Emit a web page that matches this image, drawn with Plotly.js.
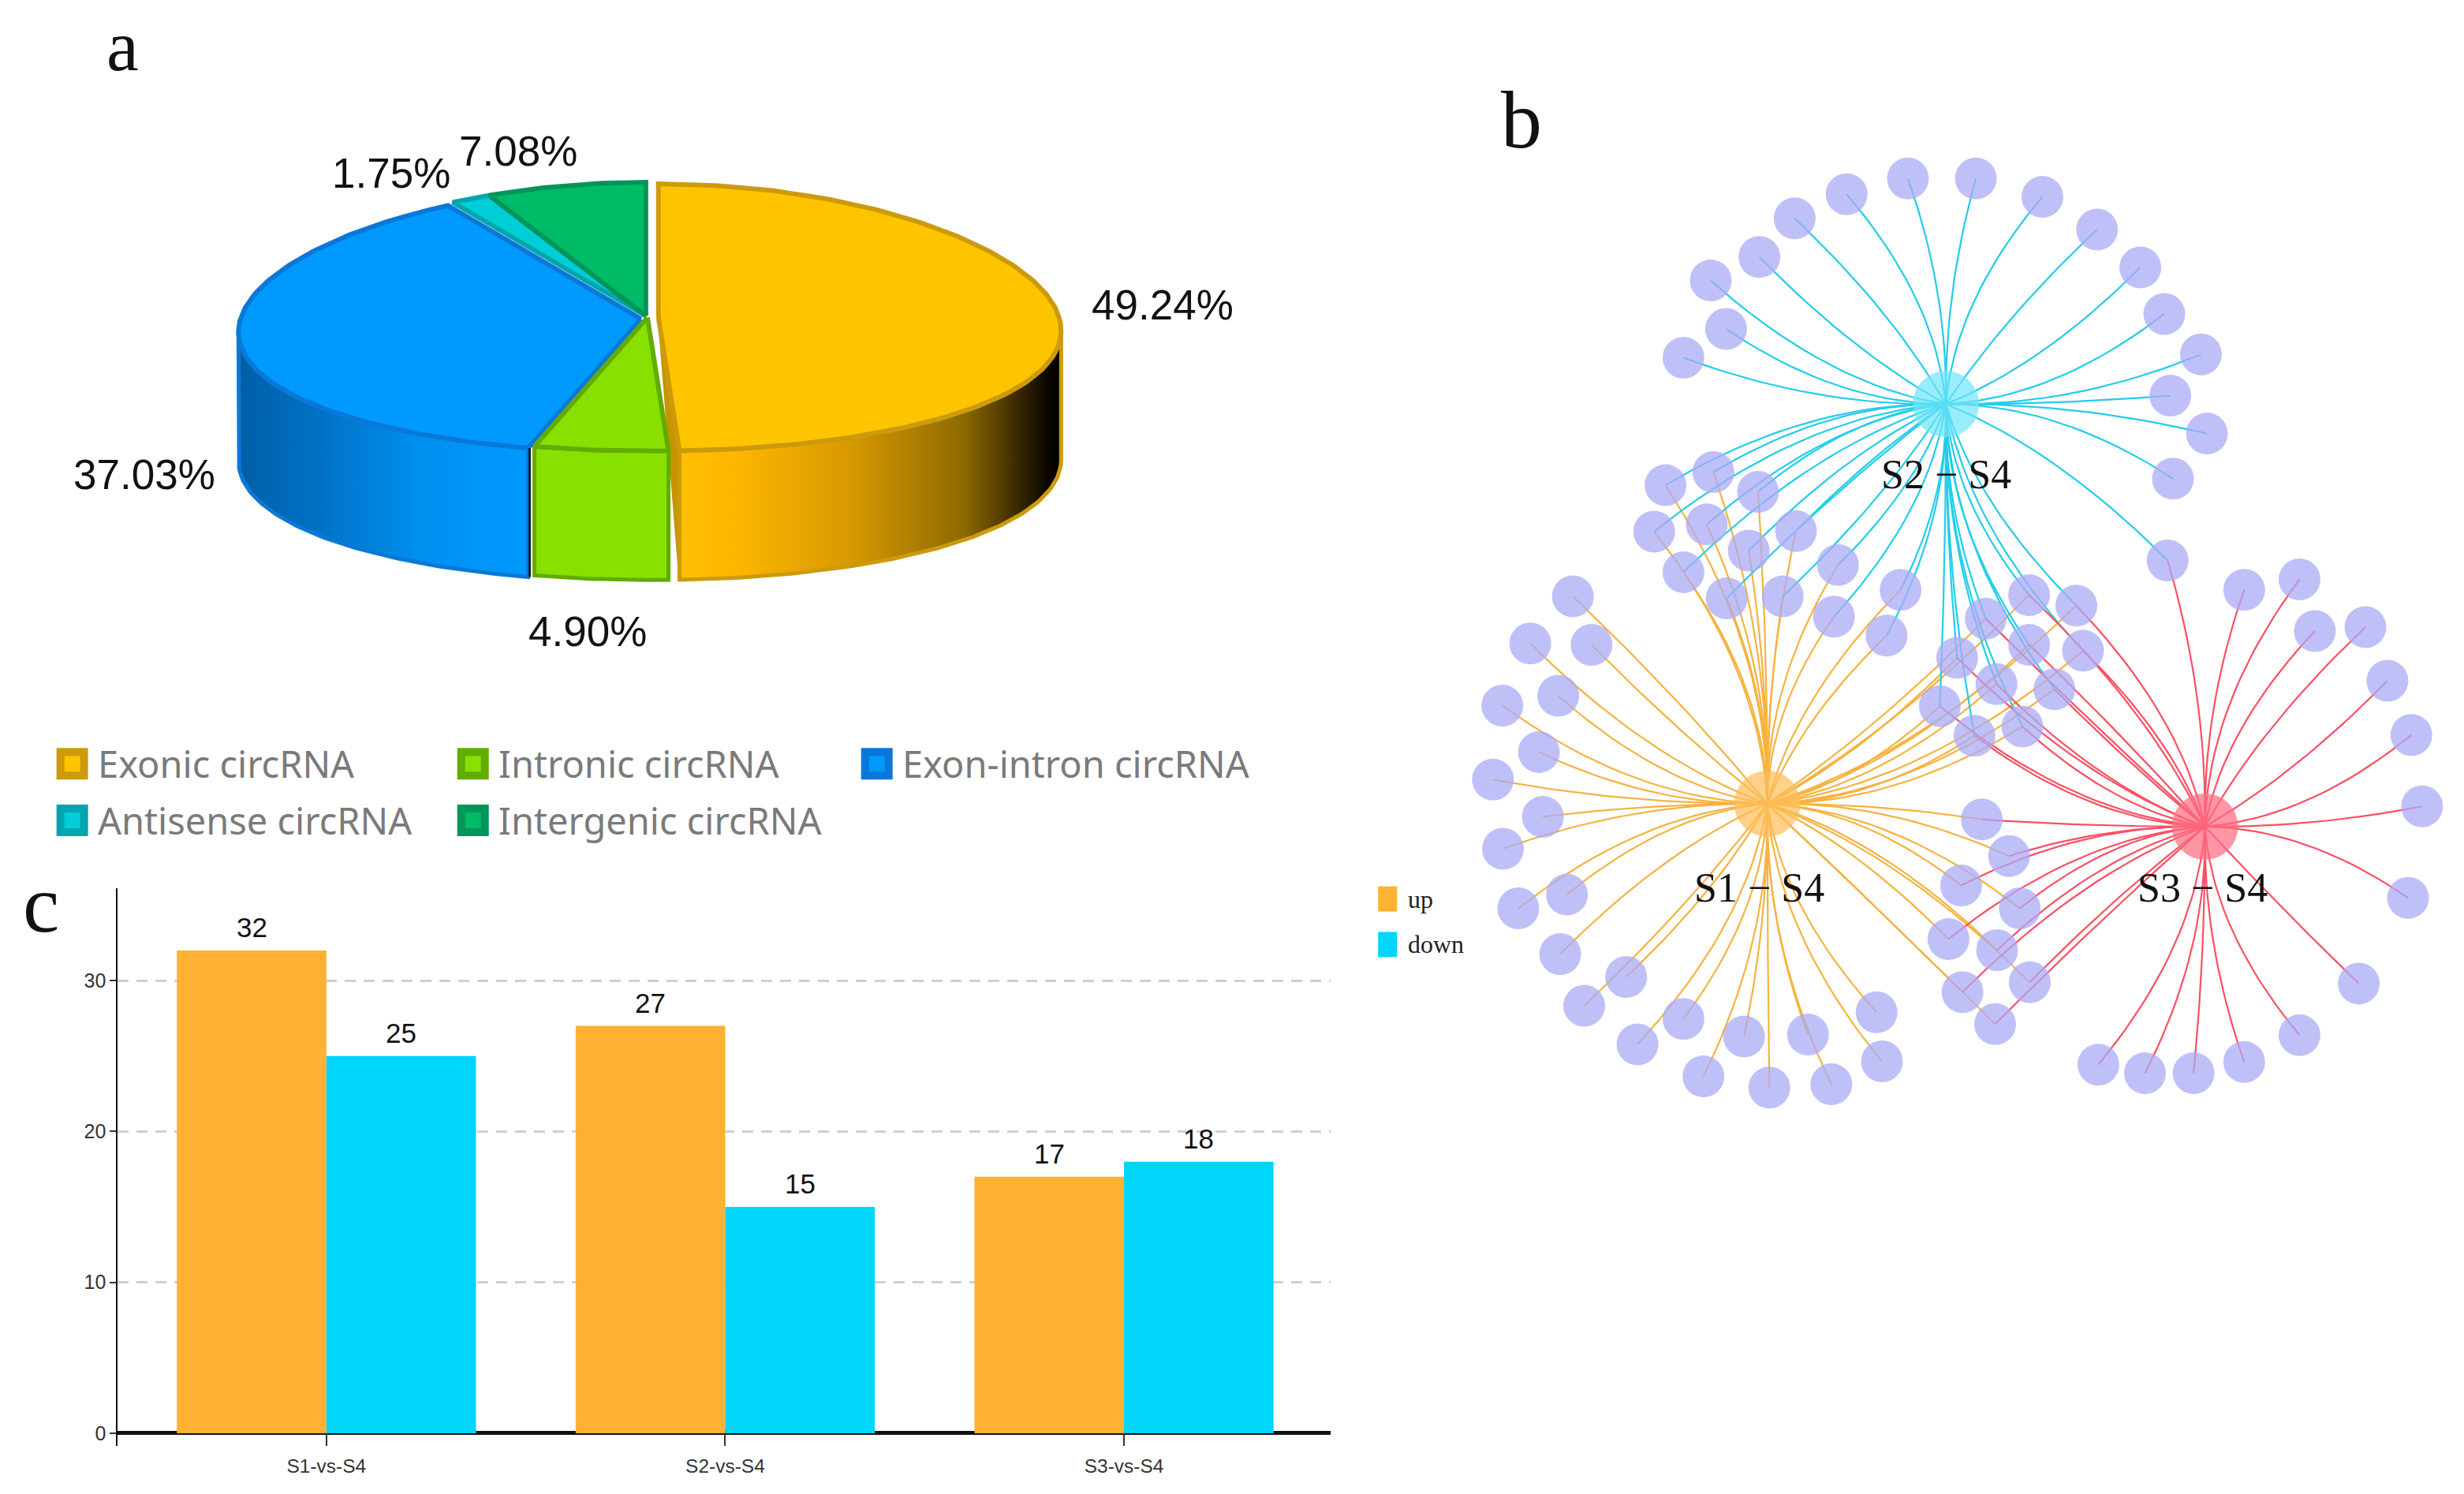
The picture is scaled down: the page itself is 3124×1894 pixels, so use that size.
<!DOCTYPE html>
<html><head><meta charset="utf-8">
<script src="https://cdn.plot.ly/plotly-3.0.1.min.js"></script>
<style>html,body{margin:0;padding:0;background:#fff;overflow:hidden}</style>
</head><body><div id="chart" style="width:3124px;height:1894px"></div>
<script>
// ---- panel a data
const pieLabels=["Exonic circRNA","Intronic circRNA","Exon-intron circRNA","Antisense circRNA","Intergenic circRNA"];
const pieValues=[49.24,4.90,37.03,1.75,7.08];
const pieFill=["#FFC400","#88E000","#0099FF","#00CDD6","#00BB66"];
const pieEdge=["#CC9A0C","#62AC00","#0A78D8","#00A5AE","#00955A"];
// ---- panel c data
const barCats=["S1-vs-S4","S2-vs-S4","S3-vs-S4"];
const upValues=[32,27,17];
const downValues=[25,15,18];
// ---- panel b data (node positions in the network's own coordinates)
const hubNames=["S1 − S4","S2 − S4","S3 − S4"];
const hubX=[522,790,1179];
const hubY=[1048,437,1083];
const onlyS2=[[396,366],[460,322],[437,248],[510,212],[563,153],[641,116],[733,92],[835,92],[935,120],[1017,170],[1082,228],[1118,299],[1173,361],[1127,424],[1182,482],[1131,551]];
const sharedS2S3=[[1123,676]];
const sharedS1S2=[[369,561],[441,541],[508,571],[352,632],[431,621],[565,631],[494,661],[396,694],[461,734],[545,731],[628,683],[622,762],[722,721],[701,791]];
const sharedAll=[[915,729],[986,745],[850,765],[915,805],[996,814],[807,825],[866,865],[953,873],[781,899],[833,944],[905,930]];
const onlyS1=[[230,731],[166,803],[258,805],[124,898],[208,883],[179,969],[110,1011],[185,1068],[125,1117],[221,1187],[148,1208],[211,1278],[310,1313],[247,1357],[327,1416],[396,1377],[426,1465],[487,1404],[525,1482],[583,1401],[618,1477],[686,1367],[694,1442]];
const sharedS1S3=[[844,1072],[885,1128],[813,1173],[901,1208],[794,1255],[867,1272],[815,1336],[916,1321],[864,1385]];
const onlyS3=[[1238,721],[1321,705],[1344,784],[1420,778],[1453,860],[1489,943],[1505,1052],[1484,1192],[1410,1323],[1321,1402],[1238,1443],[1162,1460],[1089,1460],[1019,1447]];

const SANS='"Liberation Sans",sans-serif';
const SERIF='"Liberation Serif",serif';
const traces=[];
const annotations=[];

// ---------- bar chart
traces.push({type:'bar',x:barCats,y:upValues,name:'up',marker:{color:'#FFB133'},xaxis:'x',yaxis:'y'});
traces.push({type:'bar',x:barCats,y:downValues,name:'down',marker:{color:'#00D5FA'},xaxis:'x',yaxis:'y'});
[upValues,downValues].forEach((vals,s)=>vals.forEach((v,i)=>annotations.push({xref:'x',yref:'y',x:i+(s?0.1875:-0.1875),y:v,yanchor:'bottom',yshift:8,text:String(v),showarrow:false,font:{family:SANS,size:35,color:'#111'}})));

// ---------- 3D pie built from the values
const slices={}; let acc=0;
pieValues.forEach((v,i)=>{const a0=acc*3.6,a1=(acc+v)*3.6;acc+=v;slices[i]={a0,a1};});
const geom=[{cx:838,cy:404,rx:510},{cx:824,cy:404,rx:510},{cx:816,cy:406,rx:510},{cx:822,cy:402,rx:510},{cx:822,cy:402,rx:510}];
const RY=170,DEPTH=164,PERSPECTIVE=0.1;
function rim(g,deg){const a=deg*Math.PI/180;return [g.cx+g.rx*Math.sin(a)*(1-PERSPECTIVE*Math.cos(a)),g.cy-RY*Math.cos(a)];}
function arc(g,a0,a1,dy){const xs=[],ys=[];const n=Math.max(4,Math.ceil(Math.abs(a1-a0)));
  for(let k=0;k<=n;k++){const p=rim(g,a0+(a1-a0)*k/n);xs.push(p[0]);ys.push(p[1]+dy);}
  return [xs,ys];}
function addPoly(xs,ys,fill,edge,w,grad){const t={type:'scatter',mode:'lines',x:xs,y:ys,xaxis:'x2',yaxis:'y2',fill:'toself',line:{color:edge,width:w},showlegend:false,hoverinfo:'skip'};
  if(grad)t.fillgradient=grad;else t.fillcolor=fill;traces.push(t);}
function side(i,a0,a1,grad){const g=geom[i];const t=arc(g,a0,a1,0),b=arc(g,a1,a0,DEPTH);
  addPoly(t[0].concat(b[0],[t[0][0]]),t[1].concat(b[1],[t[1][0]]),pieFill[i],pieEdge[i],5,grad);}
function topFace(i){const g=geom[i],s=slices[i],r=arc(g,s.a0,s.a1,0);
  addPoly([g.cx].concat(r[0],[g.cx]),[g.cy].concat(r[1],[g.cy]),pieFill[i],pieEdge[i],6);}
// cut face of the first slice
(function(){const g=geom[0],p=rim(g,slices[0].a1);
  addPoly([g.cx,p[0],p[0],g.cx],[g.cy,p[1],p[1]+DEPTH,g.cy],'#C89400','#C89400',2);})();
side(0,96,slices[0].a1,{type:'horizontal',start:860,stop:1348,colorscale:[[0,'#FFC000'],[0.14,'#FFB800'],[0.45,'#D89A00'],[0.75,'#8E6A00'],[0.97,'#0C0600'],[1,'#000']]});
side(1,slices[1].a0,slices[1].a1);
side(2,slices[2].a0,264,{type:'horizontal',start:304,stop:680,colorscale:[[0,'#005EA6'],[0.25,'#0070C2'],[0.62,'#0090F0'],[1,'#0099FF']]});
topFace(0);topFace(2);topFace(3);topFace(4);topFace(1);
// dark seam between the blue and green walls
(function(){const p=rim(geom[2],slices[2].a0);
  traces.push({type:'scatter',mode:'lines',x:[p[0]+2,p[0]+2],y:[p[1],p[1]+DEPTH],xaxis:'x2',yaxis:'y2',line:{color:'#102030',width:3},showlegend:false,hoverinfo:'skip'});})();

// pie value labels
const pieLabelPos=[[1480,388],[748,804],[184,604],[498,220],[660,192]];
pieValues.forEach((v,i)=>annotations.push({xref:'x2',yref:'y2',x:pieLabelPos[i][0],y:pieLabelPos[i][1],text:v.toFixed(2)+'%',showarrow:false,font:{family:SANS,size:53,color:'#111'}}));

// pie legend
const legendPos=[[92,972],[602,972],[1116,972],[92,1044],[602,1044]];
traces.push({type:'scatter',mode:'markers',x:legendPos.map(p=>p[0]),y:legendPos.map(p=>p[1]),xaxis:'x2',yaxis:'y2',showlegend:false,hoverinfo:'skip',
  marker:{symbol:'square',size:30,color:pieFill,line:{color:pieEdge,width:10}}});
pieLabels.forEach((s,i)=>annotations.push({xref:'x2',yref:'y2',x:legendPos[i][0]+30,y:legendPos[i][1],xanchor:'left',text:s,showarrow:false,font:{family:'"Noto Sans",sans-serif',size:47,color:'#7A7A7A'}}));

// bar legend
const barLegend=[['up','#FFB133',1144],['down','#00D5FA',1202]];
barLegend.forEach(b=>{traces.push({type:'scatter',mode:'lines',x:[1766,1766],y:[b[2]-16,b[2]+16],xaxis:'x2',yaxis:'y2',showlegend:false,hoverinfo:'skip',line:{color:b[1],width:24}});
  annotations.push({xref:'x2',yref:'y2',x:1790,y:b[2],xanchor:'left',text:b[0],showarrow:false,font:{family:SERIF,size:32,color:'#222'}});});

// panel letters
[['a',156,58,92],['b',1936,152,104],['c',52,1150,104]].forEach(p=>annotations.push({xref:'x2',yref:'y2',x:p[1],y:p[2],text:p[0],showarrow:false,font:{family:SERIF,size:p[3],color:'#111'}}));

// ---------- network
function curve(h,n){const dx=n[0]-h[0],dy=n[1]-h[1],ax=Math.abs(dx),ay=Math.abs(dy);
  const ratio=Math.min(ax,ay)/Math.max(ax,ay),k=Math.min(1.1,1.5*(1-ratio));
  const cx=h[0]+(ax>ay?dx/2:dx/2*(1-k)),cy=h[1]+(ax>ay?dy/2*(1-k):dy/2);
  const xs=[],ys=[];for(let t=0;t<=20;t++){const u=t/20;xs.push((1-u)*(1-u)*h[0]+2*u*(1-u)*cx+u*u*n[0]);ys.push((1-u)*(1-u)*h[1]+2*u*(1-u)*cy+u*u*n[1]);}
  xs.push(null);ys.push(null);return [xs,ys];}
function edges(i,nodes,color){let X=[],Y=[];nodes.forEach(n=>{const c=curve([hubX[i],hubY[i]],n);X=X.concat(c[0]);Y=Y.concat(c[1]);});
  traces.push({type:'scatter',mode:'lines',x:X,y:Y,xaxis:'x3',yaxis:'y3',line:{color,width:2.2},showlegend:false,hoverinfo:'skip',cliponaxis:false,connectgaps:false});}
edges(0,[...sharedS1S2,...sharedAll,...onlyS1,...sharedS1S3],'#F7B23F');
edges(1,[...onlyS2,...sharedS2S3,...sharedS1S2,...sharedAll],'#22CDEB');
edges(2,[...sharedS2S3,...sharedAll,...sharedS1S3,...onlyS3],'#FB4F63');
const allNodes=[...onlyS2,...sharedS2S3,...sharedS1S2,...sharedAll,...onlyS1,...sharedS1S3,...onlyS3];
traces.push({type:'scatter',mode:'markers',x:allNodes.map(n=>n[0]),y:allNodes.map(n=>n[1]),xaxis:'x3',yaxis:'y3',cliponaxis:false,showlegend:false,hoverinfo:'skip',marker:{size:53,color:'rgba(171,171,246,.75)'}});
traces.push({type:'scatter',mode:'markers',x:hubX,y:hubY,xaxis:'x3',yaxis:'y3',cliponaxis:false,showlegend:false,hoverinfo:'skip',marker:{size:84,color:['rgba(255,190,90,.7)','rgba(110,230,250,.7)','rgba(255,110,130,.72)']}});
hubNames.forEach((s,i)=>annotations.push({xref:'x3',yref:'y3',x:[510,790,1175][i],y:[1176,545,1176][i],text:s,showarrow:false,font:{family:SERIF,size:52,color:'#111'}}));

const W=3124,H=1894;
const layout={width:W,height:H,margin:{l:0,r:0,t:0,b:0},paper_bgcolor:'#fff',plot_bgcolor:'rgba(0,0,0,0)',showlegend:false,
  barmode:'group',bargap:0.25,bargroupgap:0,annotations,
  xaxis:{domain:[149.4/W,1687/W],anchor:'y',type:'category',range:[-0.523,2.518],showgrid:false,zeroline:false,showline:false,ticks:'inside',ticklen:16,tickwidth:2,tickcolor:'#333',ticklabelstandoff:8,tickfont:{family:SANS,size:24.5,color:'#333'}},
  yaxis:{domain:[(H-1833)/H,(H-1125.5)/H],anchor:'x',range:[-0.84,36.15],tickmode:'linear',tick0:0,dtick:10,showgrid:true,gridcolor:'#D0D0D0',gridwidth:3,griddash:'14px,10px',zeroline:true,zerolinecolor:'#111',zerolinewidth:5,showline:true,linecolor:'#111',linewidth:2,ticks:'outside',ticklen:8,tickwidth:2,tickcolor:'#333',tickfont:{family:SANS,size:25,color:'#333'}},
  xaxis2:{domain:[0,1],range:[0,3136],anchor:'y2',visible:false,fixedrange:true},
  yaxis2:{domain:[0,1],range:[1901.3,0],anchor:'x2',visible:false,fixedrange:true},
  xaxis3:{domain:[1800/W,1],range:[0,1568],anchor:'y3',visible:false},
  yaxis3:{domain:[(H-1450)/H,(H-150)/H],range:[1568,0],anchor:'x3',visible:false}
};
Plotly.newPlot('chart',traces,layout,{displayModeBar:false,staticPlot:true});
</script></body></html>
